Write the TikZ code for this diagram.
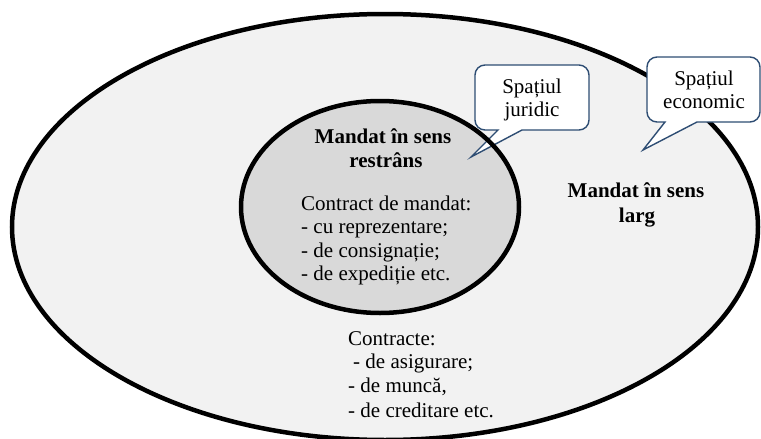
\documentclass[tikz,border=0pt]{standalone}
\usepackage{fontspec}
\setmainfont{Liberation Serif}
\definecolor{outerfill}{HTML}{F2F2F2}
\definecolor{innerfill}{HTML}{D9D9D9}
\definecolor{calloutline}{HTML}{2E4D73}
\begin{document}
\begin{tikzpicture}[x=1pt,y=1pt,
  ring/.style={line width=4.5pt,draw=black},
  bubble/.style={draw=calloutline,line width=1.4pt,fill=white,line join=miter},
  txt/.style={inner sep=0pt,font=\fontsize{21}{24}\selectfont},
  ttl/.style={inner sep=0pt,font=\fontsize{21}{24}\selectfont\bfseries}]
\useasboundingbox (0,0) rectangle (761,-439);
% outer ellipse
\fill[outerfill] (385,-227) ellipse [x radius=373, y radius=213];
\draw[ring] (385,-227) ellipse [x radius=373, y radius=213];
% inner ellipse fill
\fill[innerfill] (380,-207) ellipse [x radius=139, y radius=106];
% callout: juridic
\path[bubble] (471,-157) -- (522,-130) -- (579,-130)
  arc[start angle=-90,end angle=0,radius=10] -- (589,-75)
  arc[start angle=0,end angle=90,radius=10] -- (485,-65)
  arc[start angle=90,end angle=180,radius=10] -- (475,-120)
  arc[start angle=180,end angle=270,radius=10] -- (498,-130) -- cycle;
% callout: economic
\path[bubble] (643,-150) -- (697,-122) -- (750,-122)
  arc[start angle=-90,end angle=0,radius=10] -- (760,-67)
  arc[start angle=0,end angle=90,radius=10] -- (657,-57)
  arc[start angle=90,end angle=180,radius=10] -- (647,-112)
  arc[start angle=180,end angle=270,radius=10] -- (665,-122) -- cycle;
% inner ellipse stroke on top
\draw[ring] (380,-207) ellipse [x radius=139, y radius=106];
% texts
\node[ttl,anchor=base,align=center] (inT1) at (383,-143) {Mandat în sens};
\node[ttl,anchor=base,align=center] (inT2) at (386,-167) {restrâns};
\node[txt,anchor=base west] (inL1) at (301,-210) {Contract de mandat:};
\node[txt,anchor=base west] (inL2) at (301,-233) {- cu reprezentare;};
\node[txt,anchor=base west] (inL3) at (301,-257) {- de consignație;};
\node[txt,anchor=base west] (inL4) at (301,-280) {- de expediție etc.};
\node[ttl,anchor=base] (outT1) at (636,-197) {Mandat în sens};
\node[ttl,anchor=base] (outT2) at (637,-222) {larg};
\node[txt,anchor=base west] (outL1) at (348,-345) {Contracte:};
\node[txt,anchor=base west] (outL2) at (353,-368) {- de asigurare;};
\node[txt,anchor=base west] (outL3) at (348,-392) {- de muncă,};
\node[txt,anchor=base west] (outL4) at (348,-417) {- de creditare etc.};
\node[txt,anchor=base] (cj1) at (532,-93) {Spațiul};
\node[txt,anchor=base] (cj2) at (532,-116) {juridic};
\node[txt,anchor=base] (ce1) at (704,-85) {Spațiul};
\node[txt,anchor=base] (ce2) at (704,-108) {economic};
\end{tikzpicture}
\end{document}
